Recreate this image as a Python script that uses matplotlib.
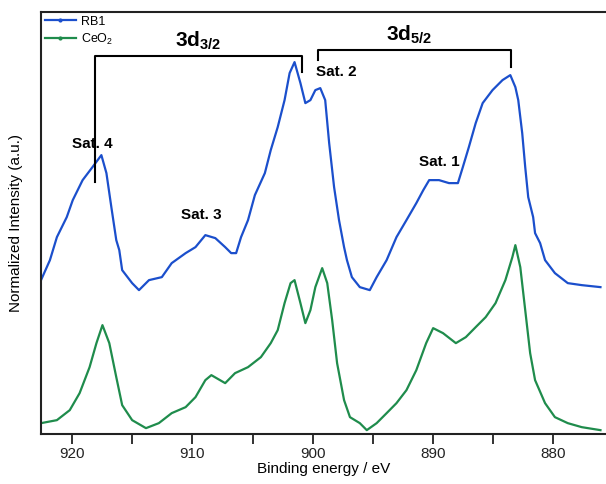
import matplotlib
matplotlib.use("Agg")
import matplotlib.pyplot as plt
from matplotlib.lines import Line2D

plt.rcParams['font.family'] = ['Liberation Sans', 'DejaVu Sans']
plt.rcParams['mathtext.fontset'] = 'custom'
plt.rcParams['mathtext.rm'] = 'Liberation Sans'
plt.rcParams['mathtext.bf'] = 'Liberation Sans:bold'

# binding energy (eV) and normalized intensity
rb1_e = [922.6, 921.86, 921.28, 920.46, 919.96, 919.14, 918.32, 917.58, 917.16, 916.75,
         916.34, 916.09, 915.85, 915.02, 914.45, 913.62, 912.55, 911.73, 910.57, 909.75,
         908.93, 908.10, 907.28, 906.78, 906.37, 905.96, 905.38, 904.81, 903.98, 903.49,
         902.91, 902.34, 901.92, 901.51, 901.02, 900.61, 900.19, 899.78, 899.37, 898.96,
         898.63, 898.22, 897.81, 897.39, 897.15, 896.74, 896.08, 895.25, 894.68, 893.85,
         893.03, 892.20, 891.38, 890.80, 890.31, 889.49, 888.66, 887.92, 887.51, 887.01,
         886.44, 885.86, 885.04, 884.21, 883.56, 883.14, 882.90, 882.57, 882.32, 882.07,
         881.66, 881.50, 881.08, 880.67, 879.85, 878.78, 877.62, 876.06]
rb1_i = [1.54, 1.74, 1.97, 2.17, 2.34, 2.54, 2.67, 2.79, 2.61, 2.27,
         1.94, 1.84, 1.64, 1.51, 1.44, 1.54, 1.57, 1.71, 1.81, 1.87,
         1.99, 1.96, 1.87, 1.81, 1.81, 1.97, 2.14, 2.39, 2.61, 2.84,
         3.07, 3.34, 3.61, 3.72, 3.51, 3.31, 3.34, 3.44, 3.46, 3.34,
         2.91, 2.47, 2.14, 1.87, 1.74, 1.57, 1.47, 1.44, 1.57, 1.74,
         1.97, 2.14, 2.31, 2.44, 2.54, 2.54, 2.51, 2.51, 2.67, 2.87,
         3.11, 3.31, 3.44, 3.54, 3.59, 3.47, 3.34, 3.01, 2.67, 2.37,
         2.17, 2.01, 1.91, 1.74, 1.61, 1.51, 1.49, 1.47]

ceo2_e = [922.6, 921.28, 920.21, 919.39, 918.56, 917.99, 917.49, 916.92, 916.34, 915.85,
          915.02, 913.87, 912.80, 911.73, 910.57, 909.75, 908.93, 908.43, 907.28, 906.46,
          905.38, 904.31, 903.49, 902.91, 902.34, 901.84, 901.51, 901.02, 900.61, 900.19,
          899.78, 899.21, 898.79, 898.38, 897.97, 897.39, 896.90, 896.08, 895.50, 894.68,
          893.85, 893.03, 892.20, 891.38, 890.56, 889.98, 889.16, 888.09, 887.26, 886.44,
          885.61, 884.79, 883.97, 883.39, 883.14, 882.73, 882.32, 881.91, 881.50, 880.67,
          879.85, 878.78, 877.62, 876.06]
ceo2_i = [0.11, 0.14, 0.24, 0.41, 0.67, 0.91, 1.09, 0.91, 0.57, 0.29,
          0.14, 0.06, 0.11, 0.21, 0.27, 0.37, 0.54, 0.59, 0.51, 0.61,
          0.67, 0.77, 0.91, 1.04, 1.31, 1.51, 1.54, 1.31, 1.11, 1.24,
          1.47, 1.66, 1.51, 1.14, 0.71, 0.34, 0.17, 0.11, 0.04, 0.11,
          0.21, 0.31, 0.44, 0.64, 0.91, 1.06, 1.01, 0.91, 0.97, 1.07,
          1.17, 1.31, 1.54, 1.77, 1.89, 1.67, 1.24, 0.81, 0.54, 0.31,
          0.17, 0.11, 0.07, 0.04]

blue = '#1b4fcc'
green = '#1f8c4c'

fig = plt.figure(figsize=(6.06, 4.84), dpi=100)
ax = fig.add_axes([0.0677, 0.103, 0.9323, 0.872])

ax.plot(rb1_e, rb1_i, '-', color=blue, lw=1.6)
ax.plot(ceo2_e, ceo2_i, '-', color=green, lw=1.6)

ax.set_xlim(922.6, 875.6)
ax.set_ylim(0, 4.22)
ax.set_xticks(range(880, 921, 5))
ax.set_xticklabels([str(t) if t % 10 == 0 else '' for t in range(880, 921, 5)])
ax.set_yticks([])
ax.tick_params(axis='x', direction='out', length=7, width=1.3, pad=2,
               labelsize=11, colors='#222222')
for s in ['left', 'bottom', 'top']:
    ax.spines[s].set_linewidth(1.5)
    ax.spines[s].set_color('#222222')
ax.spines['right'].set_visible(False)

ax.set_xlabel('Binding energy / eV', fontsize=11, labelpad=1)
ax.set_ylabel('Normalized Intensity (a.u.)', fontsize=11, labelpad=13)

# brackets
ax.plot([918.07, 918.07, 900.85, 900.85], [2.52, 3.78, 3.78, 3.62], color='k', lw=1.5)
ax.plot([899.54, 899.54, 883.47, 883.47], [3.74, 3.84, 3.84, 3.67], color='k', lw=1.5)
ax.text(909.5, 3.82, r'$\mathbf{3d_{3/2}}$', fontsize=15, ha='center', va='bottom')
ax.text(892.0, 3.88, r'$\mathbf{3d_{5/2}}$', fontsize=15, ha='center', va='bottom')

ax.text(918.3, 2.9, 'Sat. 4', fontsize=11, fontweight='bold', ha='center', va='center')
ax.text(909.3, 2.19, 'Sat. 3', fontsize=11, fontweight='bold', ha='center', va='center')
ax.text(898.0, 3.62, 'Sat. 2', fontsize=11, fontweight='bold', ha='center', va='center')
ax.text(889.5, 2.72, 'Sat. 1', fontsize=11, fontweight='bold', ha='center', va='center')

handles = [Line2D([], [], color=blue, lw=1.6, marker='.', ms=4),
           Line2D([], [], color=green, lw=1.6, marker='.', ms=4)]
ax.legend(handles, ['RB1', 'CeO$_2$'], loc='upper left', frameon=False, fontsize=9,
          handlelength=2.5, borderaxespad=0.1, borderpad=0.2, labelspacing=0.3,
          handletextpad=0.4)

fig.savefig('out.png', dpi=100)
